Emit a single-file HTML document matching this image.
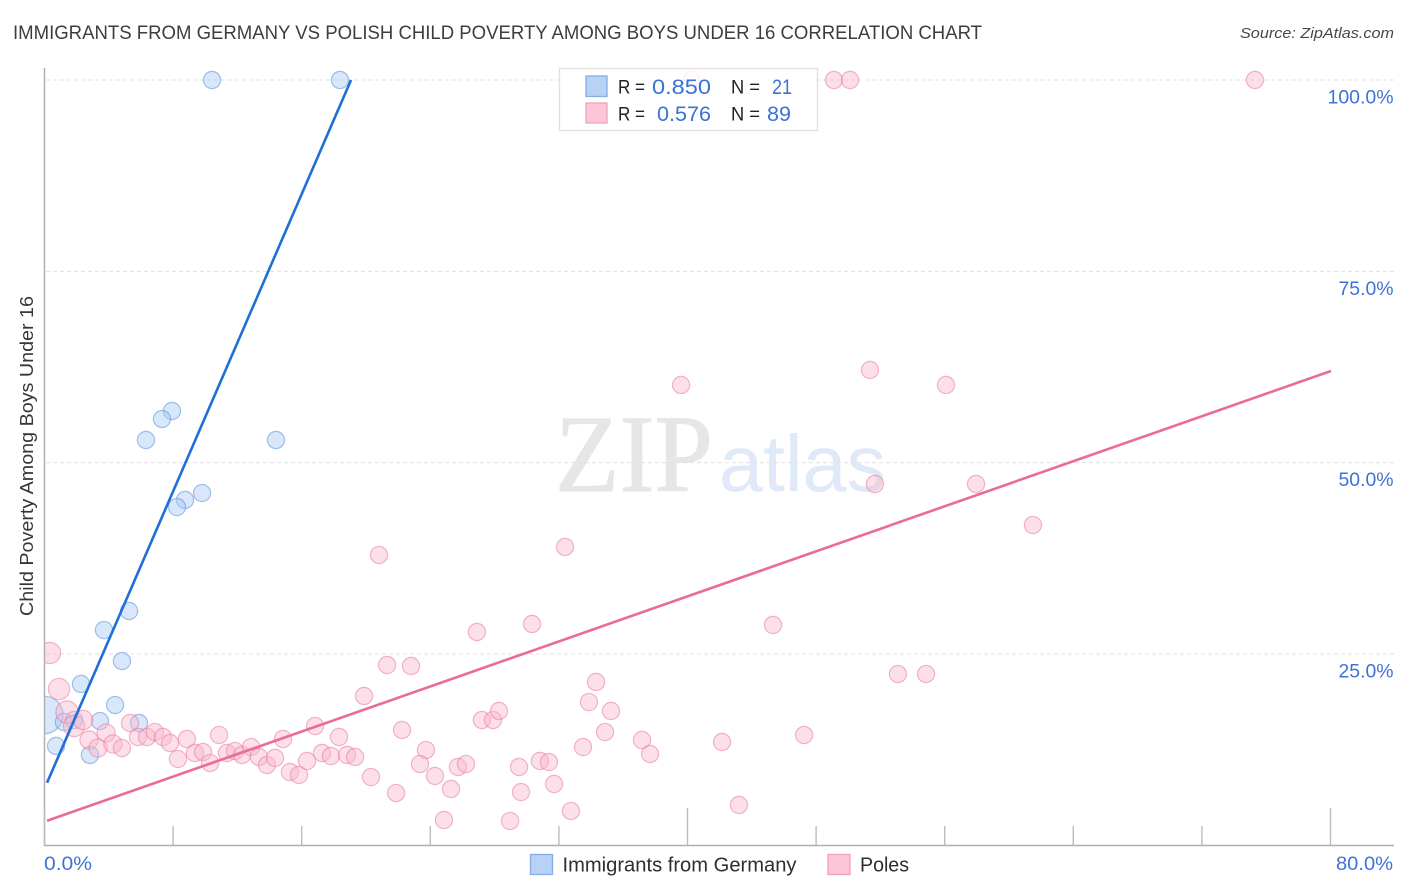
<!DOCTYPE html>
<html lang="en">
<head>
<meta charset="utf-8">
<title>Immigrants from Germany vs Polish Child Poverty Among Boys Under 16 Correlation Chart</title>
<style>
html,body{margin:0;padding:0;background:#fff;width:1406px;height:892px;overflow:hidden}
svg{display:block;font-family:"Liberation Sans",sans-serif}
</style>
</head>
<body>
<svg id="chart" xmlns="http://www.w3.org/2000/svg" width="1406" height="892" viewBox="0 0 1406 892">
  <defs>
    <clipPath id="plot-clip"><rect x="45" y="60" width="1349" height="785"/></clipPath>
  </defs>
  <rect width="1406" height="892" fill="#fff"/>
  <text x="13" y="39" font-size="19" fill="#3a3e43" textLength="969" lengthAdjust="spacingAndGlyphs">IMMIGRANTS FROM GERMANY VS POLISH CHILD POVERTY AMONG BOYS UNDER 16 CORRELATION CHART</text>
  <text x="1394" y="38" font-size="15" font-style="italic" fill="#44484d" text-anchor="end" textLength="154" lengthAdjust="spacingAndGlyphs">Source: ZipAtlas.com</text>
  <text x="555" y="491" font-family="'Liberation Serif',serif" font-size="110" fill="#e6e6e6" stroke="#e6e6e6" stroke-width="1" textLength="158" lengthAdjust="spacingAndGlyphs">ZIP</text>
  <text x="719" y="491" font-size="80" fill="#dfe9f8" textLength="167" lengthAdjust="spacingAndGlyphs">atlas</text>
  <g id="grid"></g>
  <g id="blue-points" clip-path="url(#plot-clip)"></g>
  <g id="pink-points" clip-path="url(#plot-clip)"></g>
  <g id="trends"></g>
  <g id="axes">
    <line x1="44.5" y1="68" x2="44.5" y2="846" stroke="#b0b0b0" stroke-width="1.5"/>
    <line x1="44" y1="845.5" x2="1394" y2="845.5" stroke="#b0b0b0" stroke-width="1.5"/>
  </g>
  <g id="x-ticks"></g>
  <g id="y-labels"></g>
  <text x="44" y="870" font-size="19" fill="#3f72d8" textLength="48" lengthAdjust="spacingAndGlyphs">0.0%</text>
  <text x="1336" y="870" font-size="19" fill="#3f72d8" textLength="57" lengthAdjust="spacingAndGlyphs">80.0%</text>
  <text transform="translate(33,456) rotate(-90)" font-size="18" fill="#33373b" text-anchor="middle" textLength="320" lengthAdjust="spacingAndGlyphs">Child Poverty Among Boys Under 16</text>

  <g>
    <rect x="559.5" y="68.5" width="258" height="62" fill="#fff" fill-opacity="0.85" stroke="#e0e0e0" stroke-width="1.3"/>
    <rect x="586" y="76" width="21" height="20.5" fill="#b7d2f5" stroke="#85ace6" stroke-width="1.3"/>
    <rect x="586" y="103" width="21" height="20" fill="#fcc6d8" stroke="#f0a0bc" stroke-width="1.3"/>
    <text x="618" y="93.5" font-size="19" fill="#222" textLength="27" lengthAdjust="spacingAndGlyphs">R =</text>
    <text x="652" y="94" font-size="21" fill="#3a72d6" textLength="59" lengthAdjust="spacingAndGlyphs">0.850</text>
    <text x="731" y="93.5" font-size="19" fill="#222" textLength="29" lengthAdjust="spacingAndGlyphs">N =</text>
    <text x="772" y="94" font-size="21" fill="#3a72d6" textLength="20" lengthAdjust="spacingAndGlyphs">21</text>
    <text x="618" y="120.5" font-size="19" fill="#222" textLength="27" lengthAdjust="spacingAndGlyphs">R =</text>
    <text x="657" y="121" font-size="21" fill="#3a72d6" textLength="54" lengthAdjust="spacingAndGlyphs">0.576</text>
    <text x="731" y="120.5" font-size="19" fill="#222" textLength="29" lengthAdjust="spacingAndGlyphs">N =</text>
    <text x="767" y="121" font-size="21" fill="#3a72d6" textLength="24" lengthAdjust="spacingAndGlyphs">89</text>
  </g>

  <g>
    <rect x="530.5" y="854.5" width="22" height="20" fill="#b7d2f5" stroke="#85ace6" stroke-width="1.3"/>
    <text x="562.5" y="871.5" font-size="20" fill="#2b2f33" textLength="234" lengthAdjust="spacingAndGlyphs">Immigrants from Germany</text>
    <rect x="828" y="854.5" width="22" height="20" fill="#fcc6d8" stroke="#f0a0bc" stroke-width="1.3"/>
    <text x="860" y="871.5" font-size="20" fill="#2b2f33" textLength="49" lengthAdjust="spacingAndGlyphs">Poles</text>
  </g>
</svg>
<script>
var xTickValues = [0, 8, 16, 24, 32, 40, 48, 56, 64, 72, 80];
var yTickValues = [100, 75, 50, 25];
var yTickLabels = ['100.0%', '75.0%', '50.0%', '25.0%'];

var germanyX = [10.42, 18.38, 7.93, 7.31, 6.31, 14.40, 9.80, 8.74, 8.24, 5.26, 3.70, 4.82, 2.27, 4.39, 0.00, 1.21, 1.84, 3.45, 5.88, 0.72, 2.83];
var germanyY = [100, 100, 56.75, 55.70, 52.96, 52.96, 46.03, 45.12, 44.20, 30.62, 28.13, 24.08, 21.08, 18.33, 17.03, 16.11, 16.37, 16.24, 15.98, 12.98, 11.80];
var germanyWeight = [1, 1, 1, 1, 1, 1, 1, 1, 1, 1, 1, 1, 1, 1, 4.7, 1, 1, 1, 1, 1, 1];

var polesX = [0.34, 0.90, 1.40, 1.84, 2.40, 2.77, 3.83, 3.33, 4.26, 4.82, 5.32, 5.82, 6.38, 6.87, 7.37, 7.81, 8.86, 8.30, 9.36, 9.86, 10.30, 10.86, 11.35, 11.85, 12.29, 12.85, 13.34, 13.84, 14.34, 14.84, 15.27, 15.83, 16.33, 16.83, 17.26, 17.82, 18.32, 18.82, 19.32, 19.88, 20.31, 21.87, 22.24, 21.31, 22.80, 23.73, 23.36, 24.29, 25.72, 26.22, 25.29, 24.85, 27.21, 27.90, 28.27, 29.52, 30.82, 31.38, 31.70, 29.64, 28.96, 32.75, 33.50, 33.87, 34.31, 35.24, 34.87, 37.17, 37.67, 42.15, 47.25, 43.20, 20.81, 32.38, 26.90, 30.33, 39.60, 51.35, 56.08, 51.66, 57.95, 61.49, 45.32, 53.09, 54.84, 49.11, 50.11, 75.30, 40.28];
var polesY = [25.13, 20.42, 17.42, 15.59, 16.37, 13.76, 14.67, 12.71, 13.24, 12.71, 15.98, 14.15, 14.15, 14.80, 14.15, 13.37, 13.89, 11.28, 12.06, 12.19, 10.75, 14.41, 12.06, 12.32, 11.80, 12.84, 11.54, 10.49, 11.41, 13.89, 9.58, 9.19, 11.02, 15.59, 12.06, 11.67, 14.15, 11.80, 11.54, 19.51, 8.92, 6.83, 15.07, 23.56, 23.43, 12.45, 10.62, 9.06, 10.23, 10.62, 7.36, 3.31, 16.37, 16.37, 17.55, 10.23, 11.02, 10.88, 8.01, 6.96, 3.18, 4.48, 12.84, 18.72, 21.34, 17.55, 14.80, 13.76, 11.93, 13.50, 14.41, 5.27, 37.93, 38.98, 27.87, 28.92, 60.15, 62.11, 60.15, 47.21, 47.21, 41.85, 28.79, 22.38, 22.38, 100, 100, 100, 100];
var polesWeight = [1.53, 1.53, 1.67, 1.53, 1.25, 1.12, 1.12, 1.12, 1.12, 1, 1, 1, 1, 1, 1, 1, 1, 1, 1, 1, 1, 1, 1, 1, 1, 1, 1, 1, 1, 1, 1, 1, 1, 1, 1, 1, 1, 1, 1, 1, 1, 1, 1, 1, 1, 1, 1, 1, 1, 1, 1, 1, 1, 1, 1, 1, 1, 1, 1, 1, 1, 1, 1, 1, 1, 1, 1, 1, 1, 1, 1, 1, 1, 1, 1, 1, 1, 1, 1, 1, 1, 1, 1, 1, 1, 1, 1, 1, 1];

var germanyTrendX = [0.16, 19.07];
var germanyTrendY = [8.18, 100];
var polesTrendX = [0.16, 80.03];
var polesTrendY = [3.21, 61.98];

var SVG_NS = 'http://www.w3.org/2000/svg';
function xScale(v) { return 44.5 + v * 16.075; }
function yScale(v) { return 845.3 - v * 7.653; }
function radius(w) { return 8.6 * Math.sqrt(w); }
function make(tag) { return document.createElementNS(SVG_NS, tag); }

var gridGroup = document.getElementById('grid');
yTickValues.forEach(function (v) {
  var line = make('line');
  
  
  line.setAttribute('x1', 46);
  line.setAttribute('x2', 1394);
  line.setAttribute('y1', yScale(v));
  line.setAttribute('y2', yScale(v));
  line.setAttribute('stroke', '#e0e0e0');
  line.setAttribute('stroke-width', '1');
  line.setAttribute('stroke-dasharray', '4 3');
  gridGroup.appendChild(line);
});

var labelGroup = document.getElementById('y-labels');
yTickValues.forEach(function (v, i) {
  var t = make('text');
  
  
  t.setAttribute('x', 1393.5);
  t.setAttribute('y', yScale(v) + 23.5);
  t.setAttribute('font-size', '19');
  t.setAttribute('fill', '#3f72d8');
  t.setAttribute('text-anchor', 'end');
  t.setAttribute('textLength', yTickLabels[i].length === 6 ? 66 : 55);
  t.setAttribute('lengthAdjust', 'spacingAndGlyphs');
  t.textContent = yTickLabels[i];
  labelGroup.appendChild(t);
});

var tickGroup = document.getElementById('x-ticks');
xTickValues.forEach(function (v) {
  var tick = make('line');
  
  
  tick.setAttribute('x1', xScale(v));
  tick.setAttribute('x2', xScale(v));
  tick.setAttribute('y1', v % 40 === 0 ? 808 : 826);
  tick.setAttribute('y2', 845);
  tick.setAttribute('stroke', '#bcbcbc');
  tick.setAttribute('stroke-width', '1.4');
  tickGroup.appendChild(tick);
});

function drawPoints(groupId, xs, ys, ws, fill, stroke, name) {
  var g = document.getElementById(groupId);
  xs.forEach(function (x, i) {
    var c = make('circle');
    
    
    c.setAttribute('cx', xScale(x));
    c.setAttribute('cy', yScale(ys[i]));
    c.setAttribute('r', radius(ws[i]));
    c.setAttribute('fill', fill);
    c.setAttribute('fill-opacity', '0.45');
    c.setAttribute('stroke', stroke);
    c.setAttribute('stroke-opacity', '0.5');
    c.setAttribute('stroke-width', '1.2');
    g.appendChild(c);
  });
}
drawPoints('blue-points', germanyX, germanyY, germanyWeight, '#a9c9f3', '#4f8ad8', 'germany-point');
drawPoints('pink-points', polesX, polesY, polesWeight, '#f9b9cf', '#e8729c', 'poles-point');

function drawTrend(xs, ys, color, name) {
  var l = make('line');
  
  
  l.setAttribute('x1', xScale(xs[0]));
  l.setAttribute('y1', yScale(ys[0]));
  l.setAttribute('x2', xScale(xs[1]));
  l.setAttribute('y2', yScale(ys[1]));
  l.setAttribute('stroke', color);
  l.setAttribute('stroke-width', '2.6');
  document.getElementById('trends').appendChild(l);
}
drawTrend(germanyTrendX, germanyTrendY, '#1f6fd6', 'germany-trend-line');
drawTrend(polesTrendX, polesTrendY, '#ea6a9a', 'poles-trend-line');
</script>
</body>
</html>
